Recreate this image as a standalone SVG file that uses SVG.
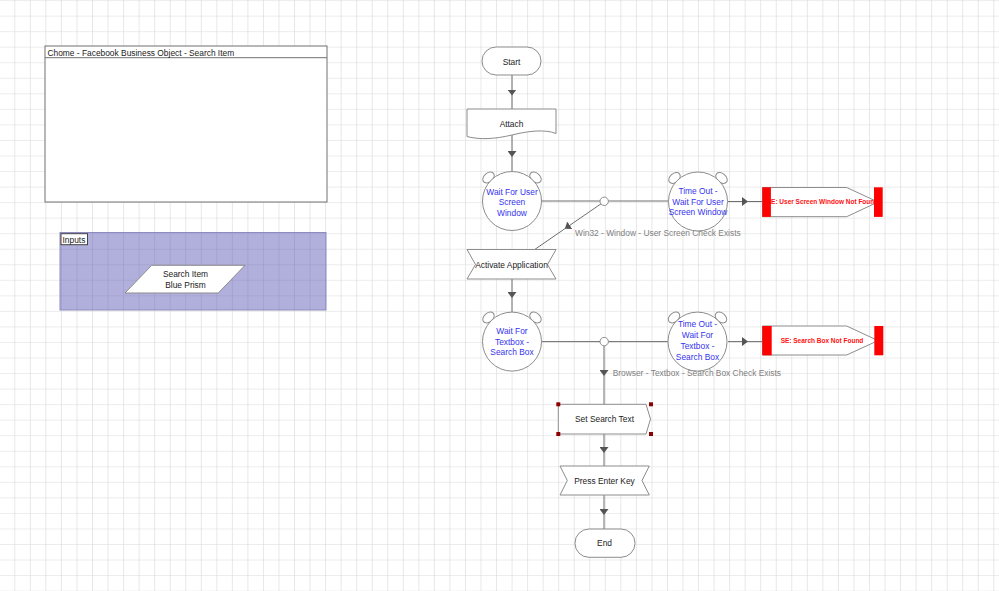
<svg xmlns="http://www.w3.org/2000/svg" width="999" height="591" viewBox="0 0 999 591">
<style>
text{font-family:"Liberation Sans",Arial,sans-serif;font-size:8.4px;fill:#222}
.c{text-anchor:middle}
.blue{fill:#3535ee}
.lbl{fill:#808080}
.red{fill:#ff1010;font-weight:bold;font-size:6.5px;text-anchor:middle}
.shape{fill:#fff;stroke:#8c8c8c;stroke-width:1}
.ear{fill:#fff;stroke:#8c8c8c;stroke-width:1}
.conn{fill:none;stroke:#6e6e6e;stroke-width:1}
.arr{marker-mid:url(#ah)}
.bar{fill:#ff0000}
.hdl{fill:#8b0000}
</style>
<defs>
<pattern id="grid" patternUnits="userSpaceOnUse" x="-1.24" y="0.1" width="15.54" height="15.54">
<path d="M0,0 H15.54 M0,0 V15.54" fill="none" stroke="#d9d9d9" stroke-width="1.2"/>
</pattern>
<marker id="ah" markerUnits="userSpaceOnUse" viewBox="0 0 6 9" refX="3" refY="4.5" markerWidth="6" markerHeight="9" orient="auto">
<path d="M0,0 L6,4.5 L0,9 Z" fill="#555"/>
</marker>
</defs>
<rect width="999" height="591" fill="#fff"/>
<rect width="999" height="591" fill="url(#grid)"/>

<g id="page-info">
<rect x="45" y="46" width="282" height="156" fill="#fff" stroke="#707070"/>
<line x1="45" y1="57.7" x2="327" y2="57.7" stroke="#707070"/>
<text x="47.5" y="55.5">Chome - Facebook Business Object - Search Item</text>
</g>

<g id="inputs-block">
<rect x="60" y="232.5" width="266" height="77.5" fill="#4e49ad" fill-opacity="0.44" stroke="#8d8bc0"/>
<rect x="61" y="233.7" width="26.5" height="11" fill="#fff" stroke="#444"/>
<text x="62.5" y="242.5">Inputs</text>
</g>

<g id="input-search-item">
<polygon class="shape" points="151.7,265.3 245,265.3 218.3,293 125,293"/>
<text class="c" x="185.5" y="276.5">Search Item</text>
<text class="c" x="185.5" y="288">Blue Prism</text>
</g>

<g id="connectors">
<path class="conn arr" d="M512,75 L512,92.5 L512,109"/>
<path class="conn arr" d="M512,135 L512,154 L512,171.5"/>
<path class="conn" d="M541.5,201 H600"/>
<path class="conn" d="M608.2,201 H668"/>
<path class="conn arr" d="M728,201.5 L745,201.5 L762,201.5"/>
<path class="conn arr" d="M601,203.8 L567.3,227 L535,249.3"/>
<path class="conn arr" d="M512,279 L512,295 L512,312"/>
<path class="conn" d="M541.5,341.6 H600"/>
<path class="conn" d="M608.2,341.6 H668"/>
<path class="conn arr" d="M728,341.6 L745,341.6 L762,341.6"/>
<path class="conn arr" d="M604,345.8 L604,373 L604,404"/>
<path class="conn arr" d="M604,434 L604,450 L604,466"/>
<path class="conn arr" d="M604,495 L604,512 L604,529"/>
<circle class="shape" cx="604.2" cy="201.3" r="4.2"/>
<circle class="shape" cx="604.2" cy="341.6" r="4.2"/>
<text class="lbl" x="575" y="236">Win32 - Window - User Screen Check Exists</text>
<text class="lbl" x="612.7" y="376">Browser - Textbox - Search Box Check Exists</text>
</g>

<g id="start">
<rect class="shape" x="482" y="47" width="59" height="28" rx="14" ry="14"/>
<text class="c" x="511.5" y="64.5">Start</text>
</g>

<g id="attach">
<path class="shape" d="M467,109 H556 V133.5 C545,129 528,131 512,135 C495,139 480,140 467,136.5 Z"/>
<text class="c" x="511.5" y="127">Attach</text>
</g>

<g id="wait-user-screen">
<ellipse class="ear" cx="488.5" cy="177.5" rx="6.5" ry="4.5" transform="rotate(-40 488.5 177.5)"/>
<ellipse class="ear" cx="535.5" cy="177.5" rx="6.5" ry="4.5" transform="rotate(40 535.5 177.5)"/>
<circle class="shape" cx="512" cy="201" r="29.5"/>
<text class="c blue" x="512" y="194.5">Wait For User</text>
<text class="c blue" x="512" y="205">Screen</text>
<text class="c blue" x="512" y="215.5">Window</text>
</g>

<g id="timeout-user-screen">
<ellipse class="ear" cx="674.5" cy="178" rx="6.5" ry="4.5" transform="rotate(-40 674.5 178)"/>
<ellipse class="ear" cx="721.5" cy="178" rx="6.5" ry="4.5" transform="rotate(40 721.5 178)"/>
<circle class="shape" cx="698" cy="201.5" r="29.5"/>
<text class="c blue" x="698" y="194">Time Out -</text>
<text class="c blue" x="698" y="204.5">Wait For User</text>
<text class="c blue" x="698" y="215">Screen Window</text>
</g>

<g id="exception-user-screen">
<path class="shape" d="M762.5,187.5 H846.7 L878,202 L846.7,216.7 H762.5 Z"/>
<text class="red" x="822.5" y="204.3">SE: User Screen Window Not Found</text>
<rect class="bar" x="762.3" y="187.3" width="8.6" height="29.6"/>
<rect class="bar" x="874" y="187.3" width="8.7" height="29.6"/>
</g>

<g id="activate-application">
<path class="shape" d="M467,249.5 H556 L547.5,264.5 L556,279 H467 L475.5,264.5 Z"/>
<text class="c" x="511.5" y="267.5">Activate Application</text>
</g>

<g id="wait-textbox">
<ellipse class="ear" cx="488.5" cy="317.5" rx="6.5" ry="4.5" transform="rotate(-40 488.5 317.5)"/>
<ellipse class="ear" cx="535.5" cy="317.5" rx="6.5" ry="4.5" transform="rotate(40 535.5 317.5)"/>
<circle class="shape" cx="512" cy="341.6" r="29.5"/>
<text class="c blue" x="512" y="333.5">Wait For</text>
<text class="c blue" x="512" y="344.5">Textbox -</text>
<text class="c blue" x="512" y="355">Search Box</text>
</g>

<g id="timeout-textbox">
<ellipse class="ear" cx="674" cy="317.5" rx="6.5" ry="4.5" transform="rotate(-40 674 317.5)"/>
<ellipse class="ear" cx="721" cy="317.5" rx="6.5" ry="4.5" transform="rotate(40 721 317.5)"/>
<circle class="shape" cx="697.5" cy="341.6" r="29.5"/>
<text class="c blue" x="697.5" y="327">Time Out -</text>
<text class="c blue" x="697.5" y="337.8">Wait For</text>
<text class="c blue" x="697.5" y="348.5">Textbox -</text>
<text class="c blue" x="697.5" y="359.5">Search Box</text>
</g>

<g id="exception-search-box">
<path class="shape" d="M762.5,326 H846.7 L878,340.6 L846.7,355 H762.5 Z"/>
<text class="red" x="822" y="342.9">SE: Search Box Not Found</text>
<rect class="bar" x="762.3" y="326" width="9.4" height="29.3"/>
<rect class="bar" x="874.3" y="326" width="9" height="29.3"/>
</g>

<g id="set-search-text">
<path class="shape" d="M558.3,404.3 H646 L650.5,419 L646,434 H558.3 Z"/>
<text class="c" x="604.5" y="422">Set Search Text</text>
<rect class="hdl" x="556.3" y="402.3" width="4" height="4"/>
<rect class="hdl" x="649" y="402.3" width="4" height="4"/>
<rect class="hdl" x="556.3" y="432" width="4" height="4"/>
<rect class="hdl" x="649" y="432" width="4" height="4"/>
</g>

<g id="press-enter-key">
<path class="shape" d="M560,466 H649.3 L642,480.5 L649.3,495 H560 L567.3,480.5 Z"/>
<text class="c" x="604.5" y="483.5">Press Enter Key</text>
</g>

<g id="end">
<rect class="shape" x="575" y="529" width="60" height="28.3" rx="14" ry="14"/>
<text class="c" x="604.5" y="546">End</text>
</g>
</svg>
